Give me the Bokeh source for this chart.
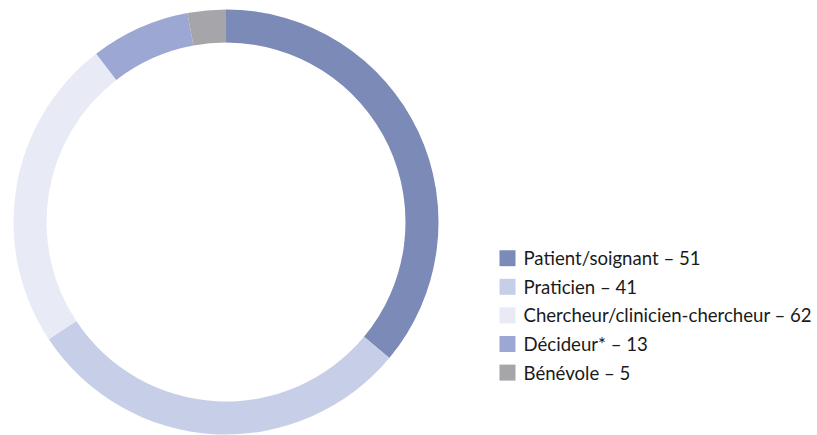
import math
from bokeh.plotting import figure
from bokeh.models import Range1d, ColumnDataSource
from bokeh.core.properties import value
from bokeh.embed import file_html
from bokeh.resources import INLINE

categories = ["Patient/soignant", "Praticien", "Chercheur/clinicien-chercheur", "Décideur*", "Bénévole"]
counts = [51, 41, 62, 13, 5]
colors = ["#7b8ab7", "#c7cee8", "#e8eaf6", "#9ca8d3", "#a5a5aa"]

# The ring is drawn with the values sorted descending, colours kept in legend order
arc_values = sorted(counts, reverse=True)

W, H = 817, 435
p = figure(width=W, height=H, output_backend="svg", toolbar_location=None,
           x_range=Range1d(0, W), y_range=Range1d(0, H), min_border=0)
p.axis.visible = False
p.grid.visible = False
p.outline_line_color = None
p.background_fill_color = "white"

total = sum(arc_values)
starts, ends = [], []
cum = 0.0
for v in arc_values:
    a0 = cum / total * 2 * math.pi
    cum += v
    a1 = cum / total * 2 * math.pi
    starts.append(math.pi / 2 - a0)
    ends.append(math.pi / 2 - a1)

cx, cy = 225.5, H - 221.5
src = ColumnDataSource(dict(start=starts, end=ends, color=colors))
p.annular_wedge(x=cx, y=cy, inner_radius=179.5, outer_radius=212.5,
                start_angle="start", end_angle="end", direction="clock",
                fill_color="color", line_color=None, source=src)

row_top = 257.7
gap = 28.6
ys = [H - (row_top + i * gap) for i in range(len(categories))]
labels = [f"{c} – {n}" for c, n in zip(categories, counts)]
lsrc = ColumnDataSource(dict(y=ys, label=labels, color=colors))
p.rect(x=507, y="y", width=16, height=16, fill_color="color", line_color=None, source=lsrc)
p.text(x=523, y="y", text="label", text_font=value("Lato"), text_font_size="18.6px",
       text_baseline="middle", text_align="left", text_color="#1a1a1a", source=lsrc)

open("out.html", "w").write(file_html(p, INLINE))
